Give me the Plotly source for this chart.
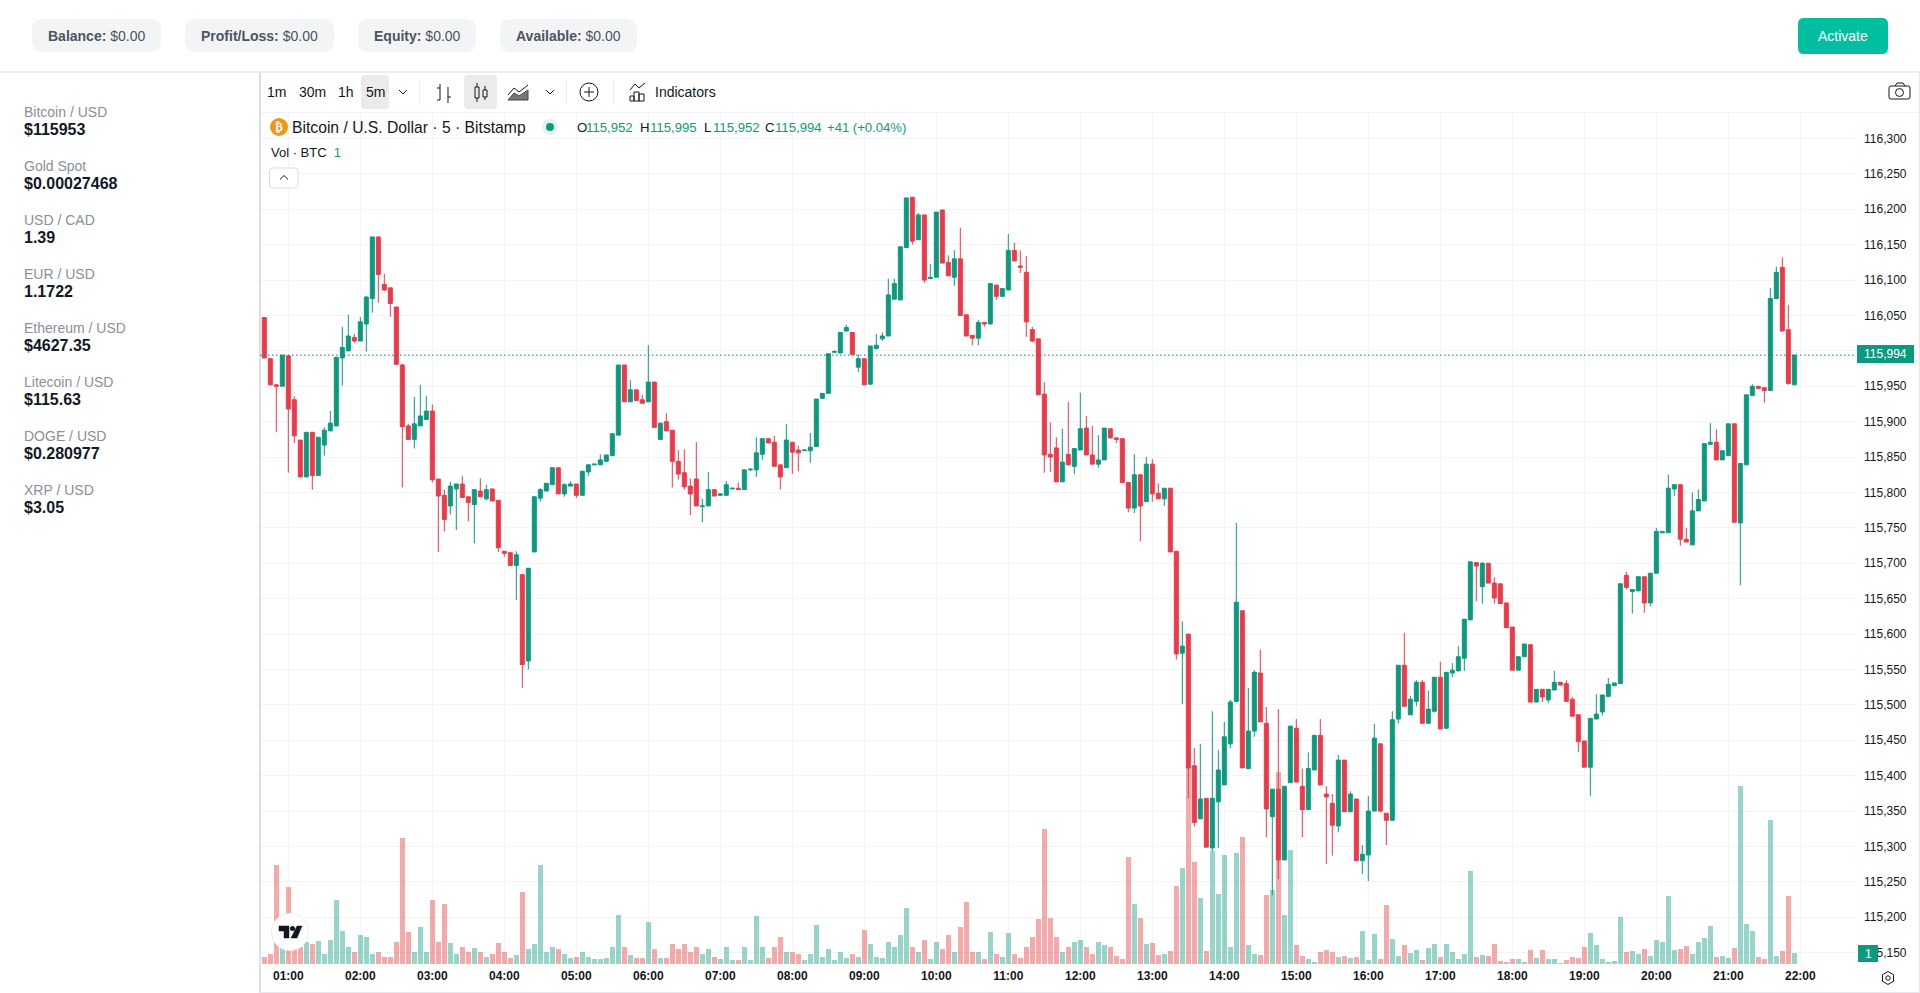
import pandas as pd
import plotly.graph_objects as go

# ---------- data ----------
opens = [
116047,115989,115952,115950,115993,115931,115874,115822,115885,115824,
115867,115887,115894,115990,116000,116019,116014,116038,116074,116161,
116094,116089,116062,115980,115894,115875,115894,115903,115915,115819,
115796,115781,115805,115812,115794,115783,115802,115791,115805,115789,
115717,115715,115697,115684,115562,115716,115792,115802,115811,115835,
115798,115809,115812,115796,115829,115839,115839,115844,115852,115881,
115980,115928,115945,115931,115928,115956,115875,115900,115888,115844,
115828,115809,115819,115780,115781,115804,115796,115796,115805,115806,
115804,115832,115832,115854,115876,115871,115839,115835,115871,115860,
115859,115859,115865,115933,115940,115998,115997,116028,116026,115977,
115989,115953,116003,116017,116021,116073,116072,116146,116217,116157,
116192,116102,116104,116199,116125,116104,116130,116051,116022,116018,
116040,116038,116093,116077,116086,116142,116120,116111,116030,116017,
115939,115854,115863,115815,115854,115837,115860,115891,115853,115840,
115846,115890,115877,115876,115814,115778,115825,115787,115840,115799,
115791,115806,115717,115573,115600,115414,115339,115368,115298,115363,
115387,115445,115505,115633,115410,115463,115545,115474,115342,115381,
115281,115390,115467,115385,115352,115408,115457,115374,115361,115329,
115422,115349,115367,115280,115288,115350,115445,115347,115337,115480,
115556,115486,115505,115532,115474,115491,115539,115467,115545,115548,
115566,115620,115701,115667,115700,115672,115671,115644,115610,115549,
115568,115585,115504,115522,115507,115521,115532,115530,115508,115486,
115449,115412,115480,115490,115512,115527,115530,115683,115660,115661,
115681,115644,115686,115743,115743,115805,115811,115734,115726,115774,
115788,115868,115871,115846,115852,115897,115757,115839,115937,115950,
115948,115944,116074,116118,116030,115952]
highs = [
116047,115989,115953,115994,115993,115936,115874,115885,115885,115878,
115892,115915,115991,116034,116051,116024,116048,116078,116161,116161,
116109,116089,116062,115982,115897,115935,115952,115936,115924,115819,
115804,115815,115812,115823,115794,115804,115820,115811,115805,115789,
115717,115715,115717,115684,115693,115794,115806,115813,115835,115835,
115813,115816,115812,115830,115840,115840,115854,115853,115883,115980,
115980,115959,115945,115938,116008,115956,115898,115912,115888,115860,
115861,115820,115871,115791,115829,115804,115799,115816,115806,115814,
115832,115833,115878,115876,115876,115880,115839,115897,115871,115866,
115860,115884,115932,115940,115996,116001,116026,116037,116026,115995,
115989,116007,116024,116026,116102,116102,116147,116216,116217,116195,
116192,116123,116196,116199,116135,116142,116174,116051,116022,116044,
116041,116095,116093,116088,116165,116153,116142,116134,116034,116017,
115956,115899,115878,115890,115928,115862,115941,115908,115894,115881,
115891,115890,115878,115876,115814,115854,115825,115850,115847,115813,
115806,115806,115717,115618,115600,115439,115445,115368,115491,115436,
115476,115507,115757,115633,115524,115549,115578,115497,115381,115494,
115385,115470,115480,115410,115433,115457,115480,115385,115374,115429,
115422,115378,115367,115302,115371,115473,115445,115347,115491,115556,
115602,115513,115535,115535,115520,115539,115561,115546,115559,115583,
115621,115702,115701,115702,115700,115680,115671,115644,115610,115568,
115586,115585,115522,115522,115522,115548,115532,115535,115511,115486,
115449,115481,115515,115514,115538,115531,115671,115688,115663,115681,
115681,115686,115750,115745,115825,115811,115811,115750,115800,115804,
115869,115898,115889,115859,115897,115897,115841,115938,115953,115950,
115948,116089,116119,116132,116065,115995]
lows = [
115990,115952,115885,115950,115828,115870,115822,115822,115804,115824,
115852,115887,115894,115951,116000,116011,116014,115999,116054,116068,
116085,116048,115981,115807,115875,115862,115894,115903,115814,115716,
115745,115769,115747,115793,115759,115728,115794,115789,115788,115716,
115709,115697,115648,115524,115550,115716,115787,115802,115811,115798,
115794,115809,115792,115796,115823,115839,115839,115844,115852,115881,
115928,115928,115930,115926,115928,115892,115875,115887,115807,115818,
115804,115768,115781,115758,115781,115795,115795,115796,115805,115804,
115804,115830,115822,115846,115870,115837,115804,115835,115826,115830,
115859,115842,115865,115933,115940,115998,115997,116028,115995,115970,
115952,115953,116003,116014,116021,116073,116072,116146,116150,116157,
116096,116102,116104,116124,116106,116092,116050,116021,116008,116008,
116034,116038,116072,116077,116086,116127,116110,116020,116012,115938,
115828,115829,115815,115815,115839,115826,115860,115853,115840,115835,
115846,115877,115870,115814,115772,115771,115731,115787,115787,115791,
115781,115716,115564,115501,115368,115328,115339,115299,115293,115298,
115387,115439,115505,115411,115410,115455,115476,115313,115231,115254,
115281,115390,115391,115313,115352,115408,115387,115275,115287,115320,
115349,115349,115280,115261,115251,115350,115348,115302,115337,115474,
115498,115486,115498,115474,115474,115489,115466,115467,115539,115548,
115548,115620,115646,115643,115672,115643,115643,115609,115549,115549,
115568,115504,115504,115504,115503,115521,115528,115505,115484,115433,
115412,115371,115480,115485,115512,115527,115530,115663,115629,115661,
115630,115639,115686,115743,115743,115795,115725,115730,115726,115774,
115788,115868,115846,115846,115852,115758,115669,115839,115937,115947,
115927,115944,116074,116028,115952,115952]
closes = [
115990,115952,115950,115994,115918,115880,115822,115885,115824,115878,
115888,115898,115991,116005,116021,116014,116041,116076,116161,116108,
116086,116067,115981,115893,115875,115897,115908,115915,115818,115795,
115762,115809,115812,115793,115786,115804,115794,115804,115788,115722,
115714,115697,115712,115557,115693,115794,115804,115813,115835,115798,
115811,115812,115796,115830,115839,115840,115846,115853,115883,115980,
115928,115945,115930,115926,115956,115892,115898,115887,115844,115826,
115808,115798,115781,115781,115804,115795,115798,115811,115806,115804,
115832,115833,115856,115876,115870,115837,115822,115874,115857,115856,
115860,115864,115932,115940,115996,115999,116026,116033,115995,115989,
115952,116007,116008,116021,116079,116095,116147,116216,116155,116192,
116100,116104,116196,116124,116106,116130,116050,116021,116018,116040,
116038,116095,116077,116088,116142,116127,116118,116041,116014,115938,
115853,115850,115815,115843,115839,115862,115890,115853,115840,115846,
115891,115877,115875,115814,115778,115825,115781,115840,115798,115791,
115806,115716,115572,115583,115411,115334,115367,115299,115368,115408,
115455,115504,115645,115411,115463,115546,115476,115353,115381,115281,
115385,115470,115391,115352,115410,115457,115387,115370,115330,115422,
115349,115374,115280,115289,115350,115453,115350,115337,115479,115556,
115498,115508,115532,115474,115494,115539,115466,115546,115549,115568,
115621,115702,115696,115700,115672,115651,115643,115609,115549,115568,
115586,115504,115522,115511,115522,115532,115528,115505,115484,115448,
115412,115481,115487,115514,115529,115531,115671,115666,115663,115681,
115644,115686,115745,115745,115806,115811,115734,115730,115774,115790,
115869,115871,115846,115859,115897,115758,115841,115938,115950,115947,
115944,116074,116111,116028,115954,115994]
volumes = [
22,29,297,81,231,73,51,66,59,70,29,73,191,99,51,37,88,81,29,37,
22,22,66,378,95,37,110,37,191,66,180,62,29,51,37,48,37,22,29,62,
37,18,26,217,44,60,297,
37,51,44,29,18,22,37,22,15,15,
18,51,147,51,26,18,18,125,44,18,
18,59,44,59,37,51,29,44,22,15,
51,11,11,51,11,143,51,18,51,81,
37,37,29,11,29,117,22,44,11,37,
18,29,22,103,59,22,18,66,51,88,
169,51,37,73,15,66,44,88,37,110,
187,37,37,15,95,29,22,92,29,18,
51,81,136,404,139,81,37,51,66,73,
51,29,65,
58,52,25,16,322,181,139,61,64,28,31,40,235,289,590,307,199,40,340,211,
328,52,334,382,58,31,28,208,223,577,148,343,58,25,16,7,37,43,37,22,
25,19,22,100,13,91,16,178,76,25,58,34,43,13,49,61,22,61,37,16,
31,280,22,28,25,61,10,7,16,16,7,43,19,43,16,16,4,13,22,19,
52,94,58,15,6,8,141,36,39,29,45,24,71,66,204,42,45,54,29,66,
78,114,21,24,18,47,533,120,99,21,15,431,24,39,204,33]
hour_labels = ["%02d:00" % h for h in range(1, 23)]
price_ticks = list(range(115150, 116301, 50))
last_price = 115994

sidebar_names = ["Bitcoin / USD", "Gold Spot", "USD / CAD", "EUR / USD", "Ethereum / USD",
                 "Litecoin / USD", "DOGE / USD", "XRP / USD"]
sidebar_values = ["$115953", "$0.00027468", "1.39", "1.1722", "$4627.35", "$115.63", "$0.280977", "$3.05"]
pills = [("Balance:", "$0.00", 32, 161), ("Profit/Loss:", "$0.00", 185, 334),
         ("Equity:", "$0.00", 358, 476), ("Available:", "$0.00", 500, 637)]

assert all(len(a) == 256 for a in (opens, highs, lows, closes, volumes)), [len(a) for a in (opens, highs, lows, closes, volumes)]

# ---------- layout geometry ----------
W, H = 1920, 993
L, R, T, B = 260, 1856, 113, 964
UP, DOWN = "#0B9A80", "#EC3A4A"
TXT = "#131722"
FONT = "Liberation Sans"
times = pd.date_range("2025-09-15 00:40", periods=256, freq="5min")
step = pd.Timedelta(minutes=5)
x_range = [times[0] - step * 0.717, times[0] + step * 265.28]
hour_vals = [pd.Timestamp("2025-09-15") + pd.Timedelta(hours=h) for h in range(1, 23)]

def px(X): return (X - L) / (R - L)
def py(Y): return (B - Y) / (B - T)

shapes, annos = [], []

def rect(x0, y0, x1, y1, fill="rgba(0,0,0,0)", line=None, lw=1):
    shapes.append(dict(type="rect", xref="paper", yref="paper", x0=px(x0), x1=px(x1), y0=py(y0), y1=py(y1),
                       fillcolor=fill, line=dict(color=line or "rgba(0,0,0,0)", width=lw if line else 0), layer="above"))

def rrect(x0, y0, x1, y1, r, fill="rgba(0,0,0,0)", line=None, lw=1, layer="above"):
    k = lambda X, Y: f"{px(X):.6f} {py(Y):.6f}"
    d = (f"M {k(x0 + r, y0)} L {k(x1 - r, y0)} Q {k(x1, y0)} {k(x1, y0 + r)} L {k(x1, y1 - r)} "
         f"Q {k(x1, y1)} {k(x1 - r, y1)} L {k(x0 + r, y1)} Q {k(x0, y1)} {k(x0, y1 - r)} "
         f"L {k(x0, y0 + r)} Q {k(x0, y0)} {k(x0 + r, y0)} Z")
    shapes.append(dict(type="path", xref="paper", yref="paper", path=d, fillcolor=fill,
                       line=dict(color=line or "rgba(0,0,0,0)", width=lw if line else 0), layer=layer))

def poly(pts, color=TXT, lw=1, fill=None, close=False):
    d = "M " + " L ".join(f"{px(a):.6f} {py(b):.6f}" for a, b in pts) + (" Z" if close else "")
    shapes.append(dict(type="path", xref="paper", yref="paper", path=d,
                       fillcolor=fill or "rgba(0,0,0,0)", line=dict(color=color, width=lw), layer="above"))

def circle(cx, cy, r, fill="rgba(0,0,0,0)", line=None, lw=1):
    shapes.append(dict(type="circle", xref="paper", yref="paper", x0=px(cx - r), x1=px(cx + r), y0=py(cy - r), y1=py(cy + r),
                       fillcolor=fill, line=dict(color=line or "rgba(0,0,0,0)", width=lw if line else 0), layer="above"))

def text(X, Y, s, size=14, color=TXT, anchor="left", family=FONT):
    annos.append(dict(xref="paper", yref="paper", x=px(X), y=py(Y), text=s, showarrow=False, xanchor=anchor, yanchor="middle",
                      align=anchor, xshift=0, borderpad=0, font=dict(size=size, color=color, family=family)))

# ---------- page chrome ----------
rect(0, 72, 1920, 72, line="#e5e7eb", lw=1.5)
for label, val, x0, x1 in pills:
    rrect(x0, 19, x1, 52, 11, fill="#f3f4f6")
    text(x0 + 15, 36, f"<b>{label}</b> {val}", size=14, color="#4b5563")
rrect(1798, 18, 1888, 54, 6, fill="#00BFA0")
text(1843, 36, "Activate", size=14, color="#ffffff", anchor="center")

for i, (n, v) in enumerate(zip(sidebar_names, sidebar_values)):
    text(23, 112 + 54 * i, n, size=14, color="#8a8f98")
    text(23, 129 + 54 * i, f"<b>{v}</b>", size=16, color="#111827")

# chart frame
rect(259, 72, 261, 993, fill="#dcdfe6")
rect(261, 112, 1920, 112.6, fill="#e6e8ee")
rect(1919, 72, 1920, 993, fill="#e6e8ee")
rect(260, 992, 1920, 993, fill="#e6e8ee")

# toolbar
rrect(361, 75, 389, 109, 4, fill="#ebebeb")
rrect(464, 75, 497, 109, 4, fill="#ebebeb")
text(266, 92, "1m", 14); text(297.5, 92, "30m", 14); text(337, 92, "1h", 14); text(364.5, 92, "5m", 14)
poly([(399, 90), (403, 94), (407, 90)], lw=1)
poly([(546, 90), (550, 94), (554, 90)], lw=1)
for sx in (419, 566, 613):
    rect(sx, 80, sx + 0.8, 104, fill="#e6e8ee")
# bar icon
poly([(440, 84), (440, 100)]); poly([(437, 88), (440, 88)]); poly([(448, 87), (448, 103)]); poly([(448, 97), (451, 97)]); poly([(440, 100), (437, 100)])
# candle icon
poly([(477, 83), (477, 102)]); rect(475, 87, 479, 98, fill="#ebebeb", line=TXT)
poly([(485, 86), (485, 100)]); rect(483, 90, 487, 97, fill="#ebebeb", line=TXT)
# area icon
poly([(508, 95), (514, 88), (519, 92), (528, 85)], lw=1)
poly([(508, 100), (514, 93), (519, 96), (528, 90), (528, 100)], color="#444", lw=1, fill="#777", close=True)
# plus icon
circle(589, 92, 9, line=TXT); poly([(589, 87), (589, 97)]); poly([(584, 92), (594, 92)])
# indicators icon
rect(630, 96, 634, 101, line=TXT); rect(634, 92, 639, 101, line=TXT); rect(639, 94, 644, 101, line=TXT)
poly([(630, 90), (635, 84), (639, 88), (645, 83)])
text(654, 92, "Indicators", 14)
# camera icon
rrect(1889, 86, 1910, 99, 2, line=TXT); poly([(1895, 86), (1897, 83), (1903, 83), (1905, 86)]); circle(1899.5, 92.5, 4, line=TXT)

# legend
circle(279, 127, 9, fill="#F7931A")
text(279, 127, "<b>₿</b>", 12, "#ffffff", "center", "DejaVu Sans")
text(291, 127, "Bitcoin / U.S. Dollar · 5 · Bitstamp", 15.7)
circle(550, 127, 8, fill="#E0F3EF"); circle(550, 127, 4, fill=UP)
for lab, lx, val, vx in [("O", 575.5, "115,952", 584.5), ("H", 639, "115,995", 648.5),
                         ("L", 703, "115,952", 712), ("C", 764, "115,994", 773.5)]:
    text(lx, 128, lab, 13.2)
    text(vx, 128, val, 13.2, UP)
text(826, 128, "+41 (+0.04%)", 13.1, UP)
g = lambda s: f'<span style="color:{UP}">{s}</span>'
text(270, 152, "Vol · BTC  " + g("1"), 13)
rrect(269.5, 168, 298, 188, 3, fill="#ffffff", line="#d8dbe3")
poly([(280, 179.5), (284, 175.5), (288, 179.5)], lw=1)

# TV logo
circle(290, 932, 18.5, fill="#ffffff", line="#eceef2", lw=1)
poly([(279, 926), (289, 926), (289, 938), (284, 938), (284, 931), (279, 931)], color=TXT, fill=TXT, lw=0.5, close=True)
circle(292.5, 928.5, 2.5, fill=TXT)
poly([(297, 926), (302, 926), (297, 938), (291, 938)], color=TXT, fill=TXT, lw=0.5, close=True)

# price tags
rect(1857, 345, 1914, 363, fill=UP)
text(1885.5, 354, "115,994", 12, "#ffffff", "center")
rect(1858, 945, 1878, 962, fill=UP)
text(1868, 953.5, "1", 12, "#ffffff", "center")

# gear icon
poly([(1888, 971.5), (1893.5, 974.7), (1893.5, 981.3), (1888, 984.5), (1882.5, 981.3), (1882.5, 974.7)], close=True)
circle(1888, 978, 2.2, line=TXT)

# last price line
shapes.append(dict(type="line", xref="paper", yref="y2", x0=0, x1=1, y0=last_price, y1=last_price,
                   line=dict(color="#06806B", width=1, dash="1.5px,2.5px"), layer="above"))

# ---------- traces ----------
vol_colors = ["rgba(8,153,129,0.42)" if c >= o else "rgba(232,70,70,0.46)" for o, c in zip(opens, closes)]
fig = go.Figure()
fig.add_trace(go.Bar(x=times, y=volumes, width=250000, marker=dict(color=vol_colors, line=dict(width=0)),
                     yaxis="y", hoverinfo="skip", showlegend=False))
fig.add_trace(go.Candlestick(x=times, open=opens, high=highs, low=lows, close=closes, yaxis="y2",
                             increasing=dict(line=dict(color=UP, width=1), fillcolor=UP),
                             decreasing=dict(line=dict(color=DOWN, width=1), fillcolor=DOWN),
                             whiskerwidth=0, hoverinfo="skip", showlegend=False))
fig.update_layout(
    width=W, height=H, autosize=False, margin=dict(l=L, r=W - R, t=T, b=H - B),
    paper_bgcolor="#ffffff", plot_bgcolor="#ffffff", showlegend=False,
    font=dict(family=FONT, size=12, color=TXT), boxmode="overlay", boxgap=0.2, boxgroupgap=0.17,
    bargap=0, shapes=shapes, annotations=annos, hovermode=False,
    xaxis=dict(type="date", range=x_range, tickmode="array", tickvals=hour_vals,
               ticktext=[f"<b>{t}</b>" for t in hour_labels], showgrid=True, gridcolor="#f3f4f7", gridwidth=1,
               rangeslider=dict(visible=False), showline=False, ticks="", ticklabelstandoff=3,
               tickfont=dict(size=12, color=TXT), zeroline=False, automargin=False),
    yaxis=dict(range=[0, 2553], visible=False, showgrid=False, zeroline=False, fixedrange=True),
    yaxis2=dict(overlaying="y", side="right", range=[115134, 116336], tickmode="array", tickvals=price_ticks,
                ticktext=[f"{p:,}" for p in price_ticks], showgrid=True, gridcolor="#f3f4f7", gridwidth=1,
                showline=False, ticks="", ticklabelstandoff=7, tickfont=dict(size=12, color=TXT),
                zeroline=False, automargin=False),
)
fig.write_html("out.html", config={"displayModeBar": False},
               post_script="document.body.style.margin='0';document.documentElement.style.overflow='hidden';")
